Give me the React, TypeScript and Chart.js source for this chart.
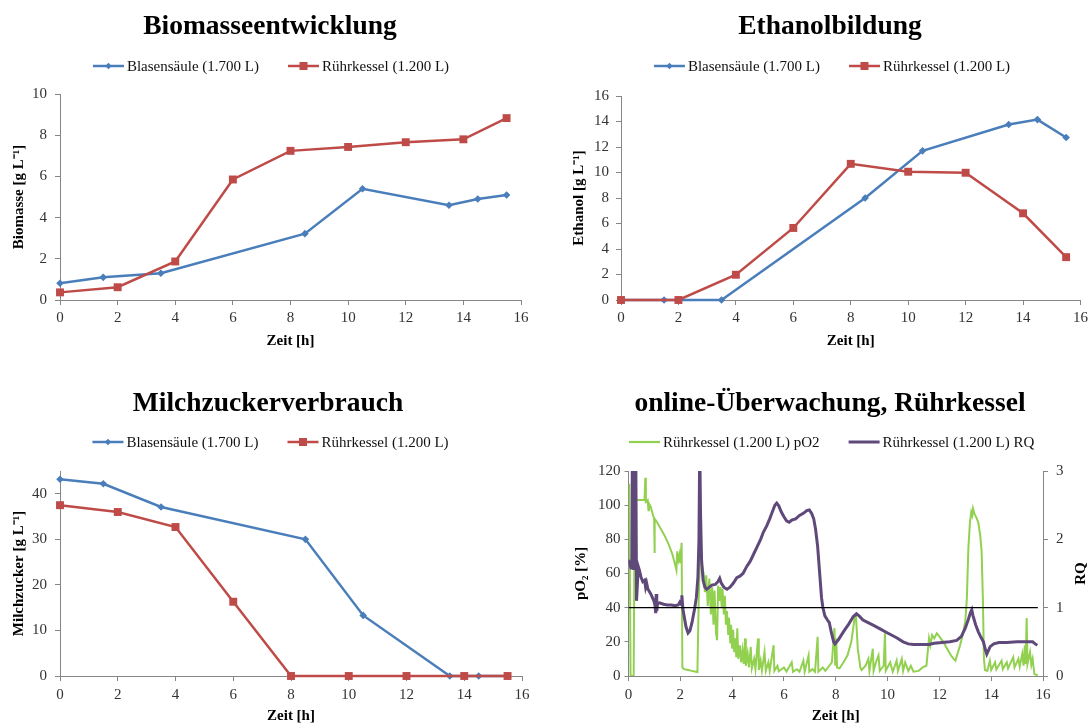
import React, { useEffect, useRef } from "react";
import { Chart, registerables } from "chart.js";

Chart.register(...registerables);

const FONT = '"Liberation Serif", "Times New Roman", serif';
const AXIS_COLOR = "#868686";
const TICK_TEXT = "#333333";

const BLUE = "#4a7ebb";
const RED = "#be4b48";
const GREEN = "#92d050";
const PURPLE = "#5f497a";

// Sampling times [h]
const bubbleHours = [0, 1.5, 3.5, 8.5, 10.5, 13.5, 14.5, 15.5];
const stirredHours = [0, 2, 4, 6, 8, 10, 12, 14, 15.5];

// Biomass [g/L]
const biomassBubble = [0.81, 1.1, 1.3, 3.22, 5.4, 4.6, 4.9, 5.1];
const biomassStirred = [0.37, 0.62, 1.87, 5.85, 7.24, 7.43, 7.66, 7.8, 8.83];

// Ethanol [g/L]
const ethanolBubble = [0, 0, 0, 8.0, 11.7, 13.76, 14.15, 12.74];
const ethanolStirred = [0, 0, 1.98, 5.65, 10.68, 10.06, 9.98, 6.8, 3.36];

// Lactose [g/L]
const lactoseBubble = [43.2, 42.2, 37.1, 30.0, 13.3, 0, 0, 0];
const lactoseStirred = [37.5, 36.0, 32.7, 16.3, 0, 0, 0, 0, 0];

// Online monitoring of the stirred tank: [time h, pO2 %]
const pO2Trace: [number, number][] = [
  [0.0, 112], [0.03, 112], [0.08, 0], [0.2, 0], [0.24, 103], [0.35, 103], [0.5, 103], [0.62, 103],
  [0.65, 116], [0.67, 102], [0.74, 103], [0.77, 97], [0.79, 101], [0.86, 99], [0.95, 94], [0.99, 92],
  [1.0, 72], [1.02, 92], [1.1, 90], [1.25, 86], [1.4, 82], [1.55, 77], [1.7, 71], [1.82, 64],
  [1.85, 62], [1.88, 73], [1.93, 68], [1.97, 71], [2.0, 66], [2.05, 78], [2.08, 5], [2.15, 4],
  [2.3, 3.5], [2.45, 3], [2.6, 2.5], [2.66, 2.3], [2.71, 45], [2.77, 74], [2.83, 65], [2.9, 60],
  [2.95, 49], [3.0, 59], [3.06, 41], [3.12, 57], [3.18, 36], [3.23, 52], [3.28, 30], [3.32, 50],
  [3.38, 25], [3.42, 21], [3.46, 53], [3.5, 44], [3.55, 52], [3.6, 40], [3.63, 51], [3.68, 36],
  [3.72, 47], [3.76, 30], [3.8, 38], [3.85, 24], [3.88, 34], [3.93, 19], [3.96, 30], [4.0, 16],
  [4.04, 27], [4.08, 14], [4.12, 22], [4.16, 11], [4.2, 28], [4.24, 10], [4.3, 18], [4.35, 8],
  [4.4, 15], [4.45, 7], [4.5, 22], [4.53, 6], [4.6, 13], [4.65, 5], [4.72, 17], [4.76, 4.5],
  [4.85, 10], [4.9, 4], [5.0, 22], [5.03, 3.5], [5.1, 9], [5.15, 3.2], [5.25, 14], [5.3, 3],
  [5.4, 8], [5.45, 3], [5.6, 18], [5.63, 3], [5.75, 6], [5.8, 2.8], [6.0, 5], [6.1, 2.6],
  [6.3, 8], [6.35, 2.5], [6.5, 4], [6.6, 2.5], [6.75, 9], [6.8, 2.5], [6.95, 12], [6.98, 2.5],
  [7.1, 4], [7.2, 2.5], [7.3, 23], [7.33, 2.5], [7.5, 5], [7.6, 3], [7.75, 6], [7.85, 8],
  [7.95, 28], [7.98, 6], [8.02, 22], [8.05, 5], [8.15, 4.5], [8.3, 8], [8.45, 12], [8.6, 20],
  [8.72, 33], [8.78, 35], [8.85, 16], [8.95, 5], [9.0, 3.5], [9.15, 6], [9.26, 10], [9.3, 3],
  [9.43, 16], [9.46, 3], [9.55, 8], [9.65, 12], [9.7, 3], [9.85, 6], [9.9, 25], [9.93, 3],
  [10.1, 8], [10.2, 2.5], [10.35, 9], [10.4, 3], [10.55, 10], [10.6, 3], [10.68, 8], [10.8, 3],
  [10.9, 6], [11.0, 2.5], [11.2, 3], [11.35, 5], [11.5, 6], [11.55, 14], [11.6, 22], [11.65, 18],
  [11.72, 24], [11.8, 22], [11.9, 25], [11.96, 24], [12.05, 22], [12.15, 20], [12.3, 16], [12.45, 12],
  [12.55, 10], [12.62, 9], [12.7, 13], [12.8, 18], [12.9, 24], [13.0, 32], [13.06, 45], [13.12, 75],
  [13.18, 90], [13.23, 96], [13.27, 94], [13.3, 98], [13.35, 95], [13.42, 93], [13.5, 90], [13.58, 82],
  [13.63, 73], [13.68, 45], [13.72, 10], [13.76, 3.5], [13.85, 3], [13.95, 9], [14.0, 3.5], [14.15, 8],
  [14.2, 3.8], [14.4, 9], [14.45, 4], [14.6, 8], [14.65, 4.5], [14.85, 11], [14.9, 5], [15.05, 10],
  [15.1, 5.5], [15.2, 13], [15.25, 6], [15.3, 18], [15.33, 7], [15.37, 34], [15.4, 7], [15.5, 14],
  [15.55, 6.5], [15.6, 10], [15.63, 6], [15.67, 1], [15.8, 0.5],
];

// Online monitoring of the stirred tank: [time h, respiratory quotient]
const rqTrace: [number, number][] = [
  [0.0, 1.7], [0.1, 1.58], [0.13, 1.6], [0.15, 3.4], [0.18, 2.2], [0.2, 1.55], [0.22, 3.4], [0.26, 2.5],
  [0.28, 3.4], [0.31, 1.1], [0.35, 1.4], [0.38, 1.6], [0.42, 1.55], [0.48, 1.45], [0.55, 1.38], [0.62, 1.4],
  [0.66, 1.3], [0.7, 1.36], [0.75, 1.27], [0.8, 1.24], [0.86, 1.2], [0.92, 1.15], [0.98, 1.1], [1.02, 1.04],
  [1.05, 0.92], [1.07, 1.2], [1.09, 0.95], [1.12, 1.06], [1.2, 1.07], [1.35, 1.05], [1.5, 1.04], [1.65, 1.04],
  [1.8, 1.03], [1.92, 1.04], [1.98, 1.08], [2.03, 1.05], [2.06, 1.18], [2.1, 0.98], [2.16, 0.85], [2.22, 0.72],
  [2.3, 0.63], [2.37, 0.66], [2.45, 0.78], [2.55, 0.98], [2.62, 1.15], [2.68, 1.45], [2.72, 2.0], [2.75, 3.4],
  [2.78, 2.4], [2.82, 1.7], [2.88, 1.4], [2.95, 1.3], [3.02, 1.27], [3.12, 1.3], [3.22, 1.33], [3.35, 1.34],
  [3.45, 1.38], [3.52, 1.43], [3.58, 1.36], [3.68, 1.3], [3.8, 1.27], [3.92, 1.3], [4.05, 1.36], [4.18, 1.44],
  [4.3, 1.46], [4.42, 1.5], [4.56, 1.6], [4.7, 1.68], [4.85, 1.8], [4.95, 1.88], [5.1, 2.0], [5.2, 2.1],
  [5.34, 2.2], [5.45, 2.3], [5.55, 2.4], [5.65, 2.5], [5.72, 2.53], [5.8, 2.49], [5.9, 2.4], [6.0, 2.33],
  [6.1, 2.27], [6.2, 2.25], [6.3, 2.28], [6.45, 2.3], [6.6, 2.35], [6.75, 2.38], [6.88, 2.42], [6.98, 2.43],
  [7.07, 2.38], [7.15, 2.3], [7.22, 2.15], [7.3, 1.9], [7.39, 1.45], [7.45, 1.15], [7.5, 1.01], [7.58, 0.88],
  [7.68, 0.82], [7.75, 0.78], [7.84, 0.62], [7.92, 0.5], [7.97, 0.47], [8.1, 0.53], [8.3, 0.65], [8.5, 0.76],
  [8.68, 0.87], [8.8, 0.91], [8.9, 0.88], [9.05, 0.82], [9.25, 0.78], [9.46, 0.74], [9.71, 0.69], [10.0, 0.63],
  [10.35, 0.56], [10.6, 0.5], [10.8, 0.47], [11.0, 0.46], [11.3, 0.46], [11.6, 0.46], [11.8, 0.48], [12.1, 0.49],
  [12.4, 0.5], [12.67, 0.52], [12.85, 0.58], [13.0, 0.7], [13.12, 0.83], [13.2, 0.93], [13.25, 0.97], [13.3, 0.88],
  [13.4, 0.75], [13.5, 0.65], [13.6, 0.57], [13.7, 0.5], [13.78, 0.38], [13.83, 0.32], [13.9, 0.38], [13.96, 0.43],
  [14.1, 0.47], [14.3, 0.49], [14.6, 0.49], [15.0, 0.5], [15.4, 0.5], [15.6, 0.5], [15.7, 0.47], [15.78, 0.45],
];

// RQ = 1 reference line
const rqReference: [number, number][] = [[0, 1], [15.8, 1]];

const LABEL_BUBBLE = "Blasensäule (1.700 L)";
const LABEL_STIRRED = "Rührkessel (1.200 L)";

type Marker = "diamond" | "square";
type LegendItem = { label: string; color: string; lineWidth: number; marker?: Marker };

function drawMarker(ctx: CanvasRenderingContext2D, marker: Marker, x: number, y: number, color: string) {
  ctx.fillStyle = color;
  ctx.beginPath();
  if (marker === "diamond") {
    const r = 3.2;
    ctx.moveTo(x - r, y);
    ctx.lineTo(x, y - r);
    ctx.lineTo(x + r, y);
    ctx.lineTo(x, y + r);
    ctx.closePath();
  } else {
    const h = 4;
    ctx.rect(x - h, y - h, 2 * h, 2 * h);
  }
  ctx.fill();
}

// Draws the panel title, a line-with-marker legend above the plot and,
// optionally, a rotated title for a secondary axis on the right.
function headerPlugin(
  title: string,
  titleX: number,
  legendX: number,
  baseline: number,
  items: LegendItem[],
  rightTitle?: { text: string; x: number }
) {
  return {
    id: "panelHeader",
    afterDraw(chart: any) {
      const ctx: CanvasRenderingContext2D = chart.ctx;
      ctx.save();
      ctx.fillStyle = "#000";
      ctx.font = `bold 27.5px ${FONT}`;
      ctx.textAlign = "center";
      ctx.textBaseline = "alphabetic";
      ctx.fillText(title, titleX, 34);

      ctx.font = `15px ${FONT}`;
      const lineLen = 31;
      const gap = 3;
      const spacing = 29;
      const widths = items.map((it) => ctx.measureText(it.label).width);
      const total = widths.reduce((a, w) => a + lineLen + gap + w, 0) + spacing * (items.length - 1);
      let x = legendX - total / 2;
      const ly = baseline - 5;
      items.forEach((it, i) => {
        ctx.strokeStyle = it.color;
        ctx.lineWidth = it.lineWidth;
        ctx.lineCap = "butt";
        ctx.beginPath();
        ctx.moveTo(x, ly);
        ctx.lineTo(x + lineLen, ly);
        ctx.stroke();
        if (it.marker) drawMarker(ctx, it.marker, x + lineLen / 2, ly, it.color);
        ctx.fillStyle = "#111";
        ctx.textAlign = "left";
        ctx.textBaseline = "alphabetic";
        ctx.fillText(it.label, x + lineLen + gap, baseline);
        x += lineLen + gap + widths[i] + spacing;
      });

      if (rightTitle) {
        const area = chart.chartArea;
        ctx.translate(rightTitle.x, (area.top + area.bottom) / 2);
        ctx.rotate(-Math.PI / 2);
        ctx.fillStyle = "#000";
        ctx.font = `bold 15px ${FONT}`;
        ctx.textAlign = "center";
        ctx.textBaseline = "middle";
        ctx.fillText(rightTitle.text, 0, 0);
      }
      ctx.restore();
    },
  };
}

function xAxis(height: number, tickPad: number, titlePad: number) {
  return {
    type: "linear",
    min: 0,
    max: 16,
    ticks: {
      stepSize: 2,
      autoSkip: false,
      maxRotation: 0,
      color: TICK_TEXT,
      padding: tickPad,
      font: { family: FONT, size: 15 },
    },
    grid: { drawOnChartArea: false, drawTicks: true, tickLength: 5, color: AXIS_COLOR },
    border: { display: true, color: AXIS_COLOR, width: 1 },
    title: {
      display: true,
      text: "Zeit [h]",
      color: "#000",
      font: { family: FONT, size: 15, weight: "bold" },
      padding: { top: 0, bottom: titlePad },
    },
    afterFit: (s: any) => {
      s.height = height;
    },
  };
}

type YAxisOpts = {
  min: number;
  max: number;
  step: number;
  width: number;
  title?: string;
  titlePad: number;
  tickLen: number;
  tickPad: number;
  position?: "left" | "right";
  includeBounds?: boolean;
};

function yAxis(o: YAxisOpts) {
  return {
    type: "linear",
    position: o.position || "left",
    min: o.min,
    max: o.max,
    ticks: {
      stepSize: o.step,
      includeBounds: o.includeBounds !== false,
      color: TICK_TEXT,
      padding: o.tickPad,
      font: { family: FONT, size: 15 },
    },
    grid: { drawOnChartArea: false, drawTicks: true, tickLength: o.tickLen, color: AXIS_COLOR },
    border: { display: true, color: AXIS_COLOR, width: 1 },
    title: {
      display: !!o.title,
      text: o.title || "",
      color: "#000",
      font: { family: FONT, size: 15, weight: "bold" },
      padding: { top: o.titlePad, bottom: 0 },
    },
    afterFit: (s: any) => {
      s.width = o.width;
    },
  };
}

function seriesDataset(label: string, xs: number[], ys: number[], color: string, marker: Marker, order: number) {
  return {
    label,
    data: xs.map((x, i) => ({ x, y: ys[i] })),
    borderColor: color,
    backgroundColor: color,
    borderWidth: 2.5,
    pointStyle: marker === "diamond" ? "rectRot" : "rect",
    pointRadius: marker === "diamond" ? 3.8 : 5.6,
    pointBorderWidth: 0,
    pointBackgroundColor: color,
    tension: 0,
    clip: false,
    order,
  };
}

function traceDataset(label: string, pts: [number, number][], color: string, width: number, axis: string, order: number) {
  return {
    label,
    data: pts.map(([x, y]) => ({ x, y })),
    borderColor: color,
    backgroundColor: color,
    borderWidth: width,
    pointRadius: 0,
    tension: 0,
    yAxisID: axis,
    order,
  };
}

const labItems: LegendItem[] = [
  { label: LABEL_BUBBLE, color: BLUE, lineWidth: 2.5, marker: "diamond" },
  { label: LABEL_STIRRED, color: RED, lineWidth: 2.5, marker: "square" },
];

type PanelFrame = { plotLeft: number; plotRight: number; plotTop: number; canvasW: number };

function baseOptions(f: PanelFrame, scales: any) {
  return {
    responsive: false,
    animation: false,
    devicePixelRatio: 1,
    layout: { padding: { left: 0, top: f.plotTop, right: f.canvasW - f.plotRight, bottom: 0 } },
    plugins: { legend: { display: false }, title: { display: false }, tooltip: { enabled: false } },
    events: [],
    scales,
  };
}

function labConfig(
  title: string,
  titleX: number,
  legendX: number,
  baseline: number,
  frame: PanelFrame,
  xCfg: [number, number, number],
  y: YAxisOpts,
  bubble: number[],
  stirred: number[]
) {
  return {
    type: "line",
    data: {
      datasets: [
        seriesDataset(LABEL_BUBBLE, bubbleHours, bubble, BLUE, "diamond", 2),
        seriesDataset(LABEL_STIRRED, stirredHours, stirred, RED, "square", 1),
      ],
    },
    options: baseOptions(frame, { x: xAxis(...xCfg), y: yAxis(y) }),
    plugins: [headerPlugin(title, titleX, legendX, baseline, labItems)],
  };
}

function buildBiomass() {
  return labConfig(
    "Biomasseentwicklung", 270, 271, 71,
    { plotLeft: 60, plotRight: 521, plotTop: 94, canvasW: 546 },
    [62, 4, 12],
    { min: 0, max: 10, step: 2, width: 60, title: "Biomasse [g L⁻¹]", titlePad: 10, tickLen: 5, tickPad: 8 },
    biomassBubble, biomassStirred
  );
}

function buildEthanol() {
  return labConfig(
    "Ethanolbildung", 284, 286, 71,
    { plotLeft: 75, plotRight: 537, plotTop: 96, canvasW: 546 },
    [62, 4, 12],
    { min: 0, max: 16, step: 2, width: 75, title: "Ethanol [g L⁻¹]", titlePad: 24, tickLen: 5, tickPad: 7 },
    ethanolBubble, ethanolStirred
  );
}

function buildLactose() {
  return labConfig(
    "Milchzuckerverbrauch", 268, 270.5, 70,
    { plotLeft: 60, plotRight: 522, plotTop: 94, canvasW: 546 },
    [49, 5, 0],
    { min: 0, max: 45, step: 10, width: 60, title: "Milchzucker [g L⁻¹]", titlePad: 10, tickLen: 5, tickPad: 8, includeBounds: false },
    lactoseBubble, lactoseStirred
  );
}

function buildOnline() {
  const frame = { plotLeft: 82.5, plotRight: 497, plotTop: 94, canvasW: 546 };
  const items: LegendItem[] = [
    { label: "Rührkessel (1.200 L) pO2", color: GREEN, lineWidth: 2.2 },
    { label: "Rührkessel (1.200 L) RQ", color: PURPLE, lineWidth: 3 },
  ];
  const opts: any = baseOptions(frame, {
    x: xAxis(49, 5, 0),
    y: yAxis({ min: 0, max: 120, step: 20, width: 82.5, title: "pO₂ [%]", titlePad: 26, tickLen: 4, tickPad: 4 }),
    y1: yAxis({ min: 0, max: 3, step: 1, width: 49, titlePad: 0, tickLen: 5, tickPad: 8, position: "right" }),
  });
  opts.layout.padding.right = 0;
  return {
    type: "line",
    data: {
      datasets: [
        traceDataset("Rührkessel (1.200 L) pO2", pO2Trace, GREEN, 2, "y", 3),
        traceDataset("Rührkessel (1.200 L) RQ", rqTrace, PURPLE, 3, "y1", 2),
        traceDataset("RQ = 1", rqReference, "#000000", 1.3, "y1", 1),
      ],
    },
    options: opts,
    plugins: [headerPlugin("online-Überwachung, Rührkessel", 284, 285.6, 70, items, { text: "RQ", x: 535.5 })],
  };
}

function ChartPanel(props: { left: number; top: number; width: number; height: number; build: () => any }) {
  const ref = useRef<HTMLCanvasElement | null>(null);
  useEffect(() => {
    const chart = new Chart(ref.current as HTMLCanvasElement, props.build());
    return () => chart.destroy();
  }, []);
  return (
    <canvas
      ref={ref}
      width={props.width}
      height={props.height}
      style={{ position: "absolute", left: props.left, top: props.top, width: props.width, height: props.height }}
    />
  );
}

export default function App() {
  return (
    <div style={{ position: "absolute", left: 0, top: 0, width: 1092, height: 725, background: "#ffffff", overflow: "hidden" }}>
      <ChartPanel left={0} top={0} width={546} height={362} build={buildBiomass} />
      <ChartPanel left={546} top={0} width={546} height={362} build={buildEthanol} />
      <ChartPanel left={0} top={377} width={546} height={348} build={buildLactose} />
      <ChartPanel left={546} top={377} width={546} height={348} build={buildOnline} />
    </div>
  );
}
